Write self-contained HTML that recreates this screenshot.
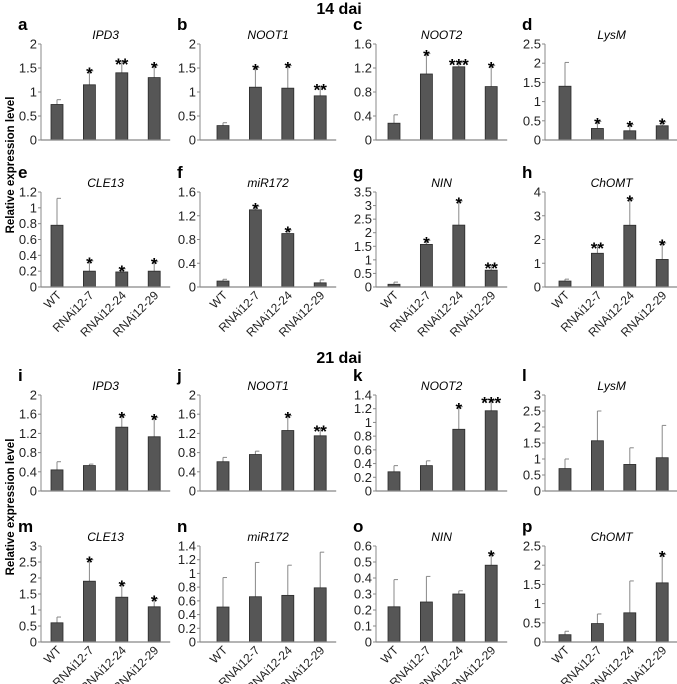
<!DOCTYPE html>
<html><head><meta charset="utf-8">
<style>
html,body{margin:0;padding:0;background:#fff;}
svg{display:block;font-family:"Liberation Sans",Arial,sans-serif;}
</style></head>
<body>
<svg id="fig" width="677" height="684" viewBox="0 0 677 684" xmlns="http://www.w3.org/2000/svg">
<text x="339" y="14" text-anchor="middle" font-size="16" font-weight="bold">14 dai</text>
<text x="339" y="363" text-anchor="middle" font-size="16" font-weight="bold">21 dai</text>
<text transform="translate(14,165) rotate(-90)" text-anchor="middle" font-size="11.5" font-weight="bold">Relative expression level</text>
<text transform="translate(14,507) rotate(-90)" text-anchor="middle" font-size="11.5" font-weight="bold">Relative expression level</text>
</svg>
<script>
const categories = ["WT","RNAi12-7","RNAi12-24","RNAi12-29"];
const panelLetters = ["a","b","c","d","e","f","g","h","i","j","k","l","m","n","o","p"];
const geneNames = ["IPD3","NOOT1","NOOT2","LysM","CLE13","miR172","NIN","ChOMT","IPD3","NOOT1","NOOT2","LysM","CLE13","miR172","NIN","ChOMT"];
const axisMax = [2,2,1.6,2.5,1.2,1.6,3.5,4,2,2,1.4,3,3,1.4,0.6,2.5];
const tickStep = [0.5,0.5,0.4,0.5,0.2,0.4,0.5,1,0.4,0.4,0.2,0.5,0.5,0.2,0.1,0.5];
const tickLabelsD = ["0","0.5","1","1.5","2","2.5"];
const meanValues = [
 [0.74,1.15,1.40,1.30],[0.30,1.10,1.08,0.92],[0.28,1.10,1.22,0.89],[1.40,0.30,0.24,0.37],
 [0.78,0.20,0.19,0.20],[0.10,1.30,0.90,0.07],[0.10,1.57,2.28,0.62],[0.25,1.42,2.60,1.16],
 [0.44,0.53,1.33,1.13],[0.61,0.76,1.26,1.15],[0.28,0.37,0.90,1.17],[0.70,1.57,0.83,1.04],
 [0.60,1.90,1.40,1.10],[0.51,0.66,0.68,0.79],[0.22,0.25,0.30,0.48],[0.19,0.48,0.76,1.54]];
const errorTops = [
 [0.84,1.44,1.62,1.55],[0.36,1.51,1.55,1.09],[0.42,1.44,1.29,1.24],[2.02,0.48,0.40,0.47],
 [1.12,0.33,0.23,0.32],[0.13,1.36,0.96,0.12],[0.18,1.72,3.17,0.78],[0.33,1.72,3.70,1.85],
 [0.61,0.56,1.57,1.53],[0.70,0.83,1.57,1.29],[0.37,0.44,1.23,1.32],[1.00,2.50,1.35,2.05],
 [0.78,2.57,1.82,1.35],[0.94,1.16,1.12,1.31],[0.39,0.41,0.32,0.55],[0.28,0.73,1.59,2.28]];
const significance = [
 ["","*","**","*"],["","*","*","**"],["","*","***","*"],["","*","*","*"],
 ["","*","*","*"],["","*","*",""],["","*","*","**"],["","**","*","*"],
 ["","","*","*"],["","","*","**"],["","","*","***"],["","","",""],
 ["","*","*","*"],["","","",""],["","","","*"],["","","","*"]];

const NS="http://www.w3.org/2000/svg";
const svg=document.getElementById('fig');
const colAxis=[41,200,376,545];
const colFirst=[57,223,394,565];
const rowTop=[44,192,395,546];
const rowBottom=[140,287,491,642];
const spacing=32.4, barW=12;
function mk(tag,attrs,parent){const e=document.createElementNS(NS,tag);for(const k in attrs)e.setAttribute(k,attrs[k]);(parent||svg).appendChild(e);return e;}
function fmt(v){return String(Math.round(v*10)/10);}
for(let p=0;p<16;p++){
  const r=Math.floor(p/4), c=p%4;
  const g=mk('g',{});
  
  
  const ax=colAxis[c], top=rowTop[r], bot=rowBottom[r], first=colFirst[c];
  const endX=first+3*spacing+16;
  const y=v=>bot-(v/axisMax[p])*(bot-top);
  const xc=i=>first+i*spacing;
  const lt=mk('text',{x:ax-23,y:top-14,'font-size':17,'font-weight':'bold'},g);
  
  
  lt.textContent=panelLetters[p];
  const tt=mk('text',{x:(ax+endX)/2,y:top-5,'font-size':12,'font-style':'italic','text-anchor':'middle'},g);
  
  
  tt.textContent=geneNames[p];
  const nT=Math.round(axisMax[p]/tickStep[p]);
  for(let t=0;t<=nT;t++){
    const v=t*tickStep[p];
    mk('line',{x1:ax-3,x2:ax,y1:y(v),y2:y(v),stroke:'#888','stroke-width':1},g);
    const tl=mk('text',{x:ax-4,y:y(v)+4.5,'font-size':13,'text-anchor':'end',fill:'#222'},g);
    
    
    tl.textContent=(p===3?tickLabelsD[t]:fmt(v));
  }
  const ya=mk('line',{x1:ax,x2:ax,y1:top,y2:bot,stroke:'#888','stroke-width':1},g);
  
  
  for(let i=0;i<4;i++){
    const et=y(errorTops[p][i]);
    mk('line',{x1:xc(i),x2:xc(i),y1:y(meanValues[p][i]),y2:et,stroke:'#888','stroke-width':1},g);
    mk('line',{x1:xc(i),x2:xc(i)+4,y1:et,y2:et,stroke:'#888','stroke-width':1},g);
    const b=mk('rect',{x:xc(i)-barW/2,y:y(meanValues[p][i]),width:barW,height:bot-y(meanValues[p][i]),fill:'#565656',stroke:'#2a2a2a','stroke-width':0.8},g);
    
    
    if(significance[p][i]){
      const s=mk('text',{x:xc(i),y:et+8,'font-size':17,'font-weight':'bold','text-anchor':'middle'},g);
      
      
      s.textContent=significance[p][i];
    }
    if(r===1||r===3){
      const xl=mk('text',{transform:`translate(${xc(i)+5},${bot+9}) rotate(-45)`,'font-size':12,'text-anchor':'end',fill:'#222'},g);
      
      
      xl.textContent=categories[i];
    }
  }
  const xa=mk('line',{x1:ax,x2:endX,y1:bot,y2:bot,stroke:'#888','stroke-width':1.2},g);
  
  
}
</script>
</body></html>
